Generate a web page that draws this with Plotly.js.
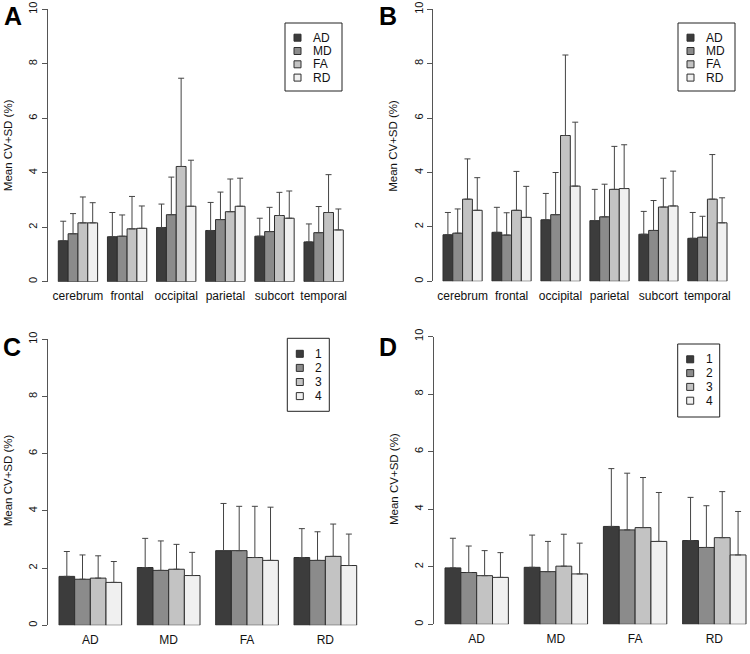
<!DOCTYPE html>
<html><head><meta charset="utf-8">
<script src="https://cdn.plot.ly/plotly-3.0.1.min.js"></script>
<style>html,body{margin:0;padding:0;background:#fff}#chart{width:750px;height:654px}</style>
</head><body><div id="chart"></div>
<script>
// ---------------- DATA ----------------
const regions  = ['cerebrum','frontal','occipital','parietal','subcort','temporal'];
const measures = ['AD','MD','FA','RD'];
const sessions = ['1','2','3','4'];

// Panel A: mean CV (%) per region, and SD
const A_AD = [1.50,1.65,1.99,1.88,1.67,1.46];
const A_MD = [1.76,1.67,2.46,2.28,1.84,1.80];
const A_FA = [2.16,1.94,4.23,2.57,2.43,2.54];
const A_RD = [2.16,1.96,2.77,2.77,2.33,1.90];
const A_AD_sd = [0.72,0.89,0.86,1.03,0.66,0.66];
const A_MD_sd = [0.74,0.78,1.38,1.01,0.89,0.96];
const A_FA_sd = [0.95,1.19,3.24,1.20,0.85,1.39];
const A_RD_sd = [0.74,0.82,1.69,1.03,1.00,0.77];

// Panel B
const B_AD = [1.71,1.80,2.26,2.23,1.73,1.58];
const B_MD = [1.77,1.70,2.45,2.37,1.87,1.62];
const B_FA = [3.02,2.61,5.36,3.38,2.73,3.02];
const B_RD = [2.61,2.35,3.50,3.41,2.77,2.15];
const B_AD_sd = [0.82,0.92,0.97,1.15,0.84,0.95];
const B_MD_sd = [0.89,0.82,1.55,1.20,1.10,0.77];
const B_FA_sd = [1.48,1.43,2.96,1.58,1.06,1.64];
const B_RD_sd = [1.20,1.14,2.35,1.61,1.28,0.92];

// Panel C: per measure, by session 1-4
const C_1 = [1.71,2.02,2.61,2.37];
const C_2 = [1.61,1.92,2.61,2.27];
const C_3 = [1.65,1.96,2.37,2.41];
const C_4 = [1.50,1.74,2.27,2.09];
const C_1_sd = [0.87,1.02,1.65,1.01];
const C_2_sd = [0.85,1.03,1.55,1.00];
const C_3_sd = [0.78,0.87,1.79,1.13];
const C_4_sd = [0.73,0.81,1.86,1.10];

// Panel D
const D_1 = [1.96,1.98,3.40,2.91];
const D_2 = [1.80,1.83,3.28,2.67];
const D_3 = [1.69,2.02,3.36,3.01];
const D_4 = [1.63,1.75,2.88,2.41];
const D_1_sd = [1.03,1.12,2.01,1.50];
const D_2_sd = [0.92,1.05,1.97,1.45];
const D_3_sd = [0.87,1.11,1.74,1.60];
const D_4_sd = [0.86,1.07,1.70,1.51];

const yTicks = [0,2,4,6,8,10];
const yTitle = 'Mean CV+SD (%)';

// ---------------- STYLE / LAYOUT ----------------
const W = 750, H = 654;
const FONT = 'Liberation Sans, Arial, Helvetica, sans-serif';
const fills = ['#3c3c3c','#8b8b8b','#c3c3c3','#f0f0f0'];
const edge = '#2e2e2e';
const axisCol = '#555555';

const panels = [
  {letter:'A', cats:regions, names:measures,
   means:[A_AD,A_MD,A_FA,A_RD], sds:[A_AD_sd,A_MD_sd,A_FA_sd,A_RD_sd],
   axisPx:47.7, barL:58.3, barR:343.3, rightPx:355, y0:281.7, y10:9.3,
   letterPos:[12.5,0], titlePos:[8.7,145.5],
   leg:{x:285, y:23, w:57, h:68, first:14.7, step:13.3}},
  {letter:'B', cats:regions, names:measures,
   means:[B_AD,B_MD,B_FA,B_RD], sds:[B_AD_sd,B_MD_sd,B_FA_sd,B_RD_sd],
   axisPx:433, barL:443, barR:727, rightPx:739, y0:281.3, y10:9.3,
   letterPos:[387.5,0], titlePos:[393.5,145.3],
   leg:{x:678, y:23, w:57, h:68, first:14.7, step:13.3}},
  {letter:'C', cats:measures, names:sessions,
   means:[C_1,C_2,C_3,C_4], sds:[C_1_sd,C_2_sd,C_3_sd,C_4_sd],
   axisPx:47.7, barL:59, barR:356.7, rightPx:368.6, y0:625.3, y10:339.3,
   letterPos:[11.7,331], titlePos:[8.3,480],
   leg:{x:287.3, y:338.3, w:42, h:73, first:15.5, step:14.1}},
  {letter:'D', cats:measures, names:sessions,
   means:[D_1,D_2,D_3,D_4], sds:[D_1_sd,D_2_sd,D_3_sd,D_4_sd],
   axisPx:433.7, barL:445, barR:746, rightPx:750, y0:624.3, y10:336.5,
   letterPos:[388,331], titlePos:[394,479],
   leg:{x:677.7, y:344, w:42, h:73, first:15.3, step:13.8}}
];

const data = [];
const layout = {
  width: W, height: H,
  margin: {l:0, r:0, t:0, b:0, pad:0},
  paper_bgcolor: '#ffffff', plot_bgcolor: 'rgba(0,0,0,0)',
  barmode: 'group', bargap: 0.2, bargroupgap: 0,
  showlegend: false,
  font: {family: FONT, size: 12, color: '#111'},
  shapes: [], annotations: []
};

panels.forEach((p, k) => {
  const sfx = k === 0 ? '' : String(k + 1);
  const xa = 'x' + sfx, ya = 'y' + sfx;
  const n = p.cats.length;
  const pxPerCat = (p.barR - p.barL) / (n - 1 + 0.8);
  const xr = [-0.4 - (p.barL - p.axisPx) / pxPerCat,
              (n - 1) + 0.4 + (p.rightPx - p.barR) / pxPerCat];

  p.names.forEach((nm, i) => {
    data.push({
      type: 'bar', name: nm, x: p.cats, y: p.means[i],
      xaxis: xa, yaxis: ya,
      marker: {color: fills[i], line: {color: edge, width: 1}},
      error_y: {type: 'data', symmetric: false, array: p.sds[i],
                arrayminus: p.sds[i].map(() => 0),
                color: '#444444', thickness: 1, width: 3},
      hoverinfo: 'x+y+name'
    });
  });

  layout['xaxis' + sfx] = {
    domain: [p.axisPx / W, p.rightPx / W], anchor: ya,
    type: 'category', range: xr, fixedrange: true,
    showline: false, showgrid: false, zeroline: false,
    ticks: 'outside', ticklen: 3, tickcolor: 'rgba(0,0,0,0)',
    tickfont: {family: FONT, size: 12, color: '#111'}
  };
  layout['yaxis' + sfx] = {
    domain: [1 - p.y0 / H, 1 - p.y10 / H], anchor: xa,
    range: [0, 10], fixedrange: true,
    tickmode: 'array', tickvals: yTicks, ticktext: yTicks.map(String),
    tickangle: -90,
    showline: true, linecolor: axisCol, linewidth: 1,
    ticks: 'outside', ticklen: 5, tickcolor: axisCol, tickwidth: 1,
    showgrid: false, zeroline: false,
    tickfont: {family: FONT, size: 11, color: '#111'}
  };

  // panel letter
  layout.annotations.push({
    xref: 'paper', yref: 'paper', x: p.letterPos[0] / W, y: 1 - p.letterPos[1] / H,
    xanchor: 'center', yanchor: 'top', showarrow: false,
    text: '<b>' + p.letter + '</b>', font: {family: FONT, size: 25, color: '#000'}
  });
  // y-axis title
  layout.annotations.push({
    xref: 'paper', yref: 'paper', x: p.titlePos[0] / W, y: 1 - p.titlePos[1] / H,
    xanchor: 'center', yanchor: 'middle', showarrow: false, textangle: -90,
    text: yTitle, font: {family: FONT, size: 11.5, color: '#111'}
  });

  // legend box
  const L = p.leg;
  layout.shapes.push({
    type: 'rect', xref: 'paper', yref: 'paper',
    x0: L.x / W, x1: (L.x + L.w) / W, y0: 1 - (L.y + L.h) / H, y1: 1 - L.y / H,
    line: {color: '#222', width: 1}, fillcolor: '#ffffff', layer: 'above'
  });
  p.names.forEach((nm, i) => {
    const cy = L.y + L.first + i * L.step;
    layout.shapes.push({
      type: 'rect', xref: 'paper', yref: 'paper',
      x0: (L.x + 9) / W, x1: (L.x + 16) / W,
      y0: 1 - (cy + 3.5) / H, y1: 1 - (cy - 3.5) / H,
      line: {color: edge, width: 1}, fillcolor: fills[i], layer: 'above'
    });
    layout.annotations.push({
      xref: 'paper', yref: 'paper', x: (L.x + 26) / W, y: 1 - cy / H,
      xanchor: 'left', yanchor: 'middle', showarrow: false,
      text: nm, font: {family: FONT, size: 12, color: '#111'}
    });
  });
});

Plotly.newPlot('chart', data, layout, {displayModeBar: false, staticPlot: true});
</script>
</body></html>
